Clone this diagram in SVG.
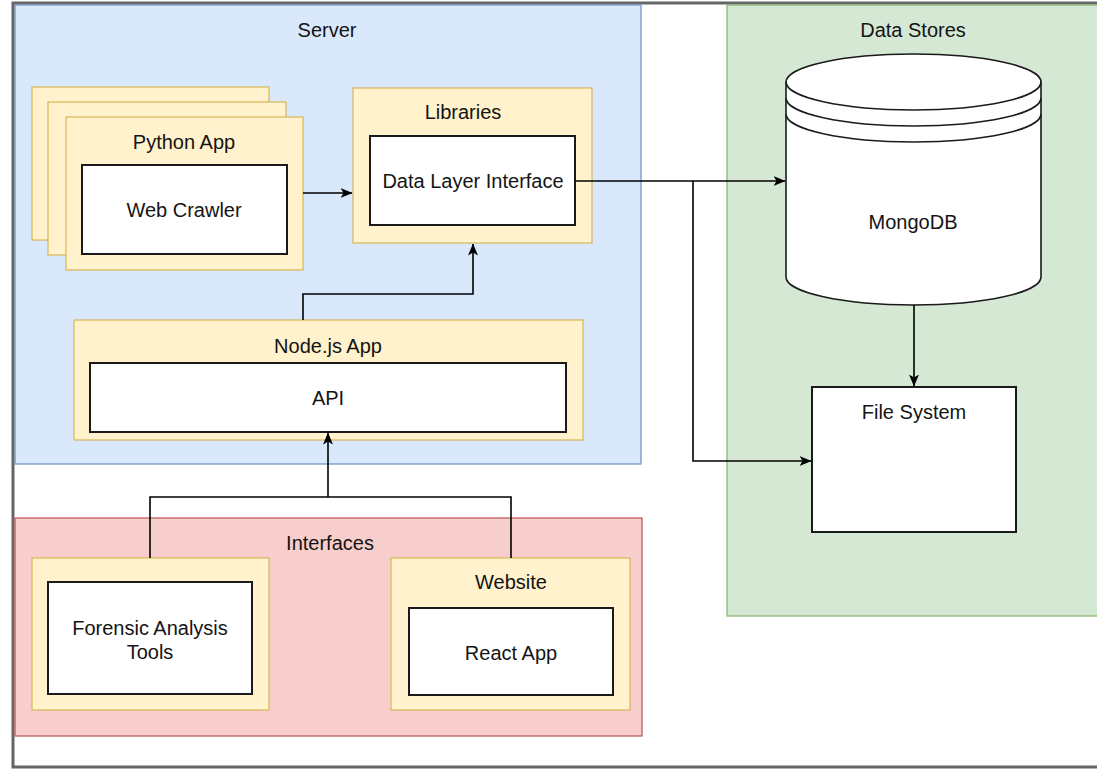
<svg xmlns="http://www.w3.org/2000/svg" width="1097" height="769" viewBox="0 0 1097 769">
<style>
text{font-family:"Liberation Sans",Arial,Helvetica,sans-serif;font-size:20px;fill:#141414;text-anchor:middle;dominant-baseline:central}
.yel{fill:#fff2cc;stroke:#d6b656;stroke-width:1.2}
.wht{fill:#fff;stroke:#1a1a1a;stroke-width:2}
.edge{fill:none;stroke:#000;stroke-width:1.6}
</style>
<defs>
<marker id="arr" viewBox="0 0 12 10" refX="11.5" refY="5" markerWidth="12" markerHeight="10" markerUnits="userSpaceOnUse" orient="auto">
<path d="M0,0 L12,5 L0,10 L3,5 Z" fill="#000"/>
</marker>
</defs>
<rect x="0" y="0" width="1097" height="769" fill="#fff"/>
<rect id="frame" x="13" y="3" width="1100" height="764" fill="#fff" stroke="#666" stroke-width="3"/>

<g id="server">
<rect x="15" y="5" width="626" height="459" fill="#dae8fc" stroke="#6c8ebf" stroke-width="1.2"/>
<text x="327" y="30">Server</text>
</g>
<g id="interfaces">
<rect x="15" y="518" width="627" height="218" fill="#f8cecc" stroke="#b85450" stroke-width="1.2"/>
<text x="330" y="543">Interfaces</text>
</g>
<g id="datastores">
<rect x="727" y="5" width="380" height="611" fill="#d5e8d4" stroke="#82b366" stroke-width="1.2"/>
<text x="913" y="30">Data Stores</text>
</g>

<g id="python-app">
<rect class="yel" x="32" y="87" width="237" height="153"/>
<rect class="yel" x="48" y="102" width="238" height="153"/>
<rect class="yel" x="66" y="117" width="237" height="153"/>
<text x="184" y="142">Python App</text>
<rect class="wht" x="82" y="165" width="205" height="89"/>
<text x="184" y="210">Web Crawler</text>
</g>

<g id="libraries">
<rect class="yel" x="353" y="88" width="239" height="155"/>
<text x="463" y="112">Libraries</text>
<rect class="wht" x="370" y="136" width="205" height="89"/>
<text x="473" y="181">Data Layer Interface</text>
</g>

<g id="nodejs-app">
<rect class="yel" x="74" y="320" width="509" height="120"/>
<text x="328" y="346">Node.js App</text>
<rect class="wht" x="90" y="363" width="476" height="69"/>
<text x="328" y="398">API</text>
</g>

<g id="forensic">
<rect class="yel" x="32" y="558" width="237" height="152"/>
<rect class="wht" x="48" y="582" width="204" height="112"/>
<text x="150" y="628">Forensic Analysis</text>
<text x="150" y="652">Tools</text>
</g>

<g id="website">
<rect class="yel" x="391" y="558" width="239" height="152"/>
<text x="511" y="582">Website</text>
<rect class="wht" x="409" y="608" width="204" height="87"/>
<text x="511" y="653">React App</text>
</g>

<g id="mongodb">
<path d="M786,82 A127.5,28 0 0 1 1041,82 L1041,277 A127.5,28 0 0 1 786,277 Z" fill="#fff" stroke="#1a1a1a" stroke-width="1.6"/>
<path d="M786,82 A127.5,28 0 0 0 1041,82 M786,98 A127.5,28 0 0 0 1041,98 M786,114 A127.5,28 0 0 0 1041,114" fill="none" stroke="#1a1a1a" stroke-width="1.6"/>
<text x="913" y="222">MongoDB</text>
</g>

<g id="filesystem">
<rect class="wht" x="812" y="387" width="204" height="145"/>
<text x="914" y="412">File System</text>
</g>

<g id="connectors">
<path class="edge" d="M303,193 L352,193" marker-end="url(#arr)"/>
<path class="edge" d="M575,181 L785,181" marker-end="url(#arr)"/>
<path class="edge" d="M693,181 L693,461 L811,461" marker-end="url(#arr)"/>
<path class="edge" d="M914,305 L914,386" marker-end="url(#arr)"/>
<path class="edge" d="M303,320 L303,294 L473,294 L473,244" marker-end="url(#arr)"/>
<path class="edge" d="M150,558 L150,497 L511,497 L511,558"/>
<path class="edge" d="M328,497 L328,433" marker-end="url(#arr)"/>
</g>
</svg>
